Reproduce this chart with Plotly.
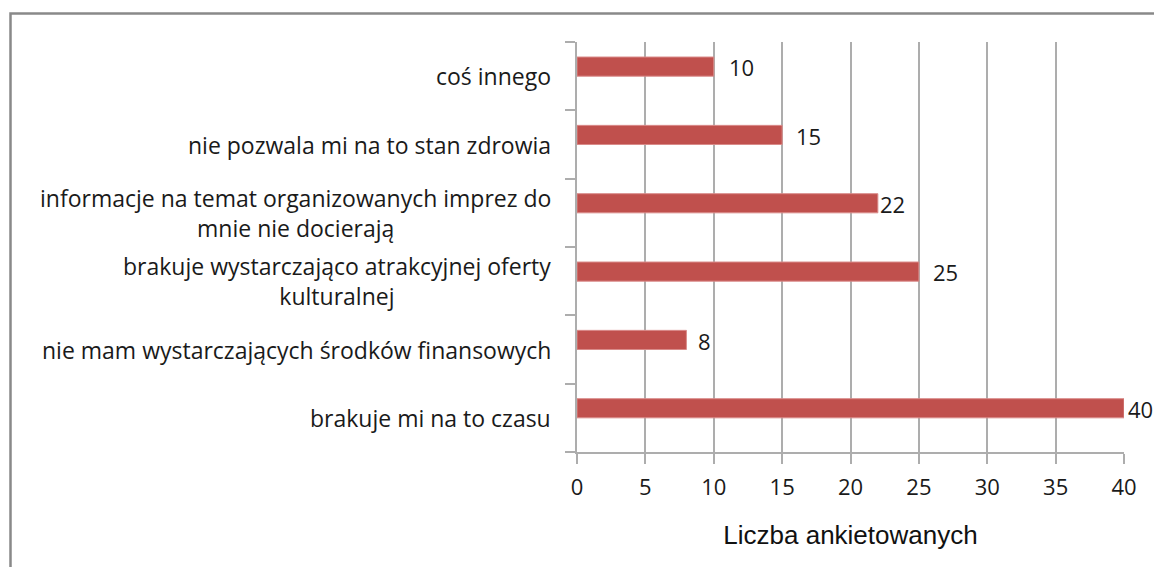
import plotly.graph_objects as go

# Data (bottom to top)
categories = [
    "brakuje mi na to czasu",
    "nie mam wystarczających środków finansowych",
    "brakuje wystarczająco atrakcyjnej oferty<br>kulturalnej",
    "informacje na temat organizowanych imprez do<br>mnie nie docierają",
    "nie pozwala mi na to stan zdrowia",
    "coś innego",
]
values = [40, 8, 25, 22, 15, 10]
x_ticks = [0, 5, 10, 15, 20, 25, 30, 35, 40]
x_title = "Liczba ankietowanych"

# styles
label_font = "'Open Sans', sans-serif"
label_xshift = [2, 10, 12, 0, 12, 13]
grid_color = "#ADADAD"
bar_color = "#C0504D"

W, H = 1154, 567
L, R, T, B = 577, 30, 42, 115
pw, ph = W - L - R, H - T - B

fig = go.Figure()
fig.add_trace(go.Bar(
    y=categories, x=values, orientation="h",
    width=0.28, offset=0,
    marker=dict(color=bar_color, line=dict(color="#D98B89", width=1)),
    hoverinfo="x+y",
))

annotations = []
for c in categories:
    annotations.append(dict(
        x=0, xref="paper", y=c, yref="y", text=c, showarrow=False,
        xanchor="right", yanchor="middle", align="center", xshift=-24,
        font=dict(family=label_font, size=23, color="#1a1a1a"),
    ))
for c, v, s in zip(categories, values, label_xshift):
    annotations.append(dict(
        x=v, xref="x", y=c, yref="y", text=str(v), showarrow=False,
        xanchor="left", yanchor="middle", xshift=s, yshift=9,
        font=dict(family=label_font, size=22, color="#1a1a1a"),
    ))

fig.update_layout(
    width=W, height=H,
    margin=dict(l=L, r=R, t=T, b=B, pad=0),
    paper_bgcolor="white", plot_bgcolor="white",
    showlegend=False,
    annotations=annotations,
    shapes=[dict(
        type="rect", xref="paper", yref="paper",
        x0=(10.5 - L) / pw, x1=(W + 20 - L) / pw,
        y0=-(H + 20 - T - ph) / ph, y1=1 + (T - 13.5) / ph,
        line=dict(color="#898989", width=2.5), layer="below",
    )],
    xaxis=dict(
        range=[0, 40], tickvals=x_ticks, showgrid=True, gridcolor=grid_color,
        gridwidth=1.5, zeroline=False, showline=True, linecolor=grid_color,
        linewidth=1.5, ticks="outside", ticklen=10, tickcolor=grid_color,
        tickwidth=1.5, ticklabelstandoff=5,
        tickfont=dict(family=label_font, size=22, color="#1a1a1a"),
        title=dict(text=x_title, standoff=26,
                   font=dict(family="'Liberation Sans', Arial, sans-serif", size=26, color="#111")),
    ),
    yaxis=dict(
        type="category", showticklabels=False, showgrid=False, zeroline=False,
        showline=True, linecolor=grid_color, linewidth=1.5,
        ticks="outside", tickson="boundaries", ticklen=10, tickcolor=grid_color,
        tickwidth=1.5, range=[-0.5, 5.5],
    ),
    bargap=0.7,
)

# remove the default page margin so the figure fills the window exactly
fig.write_html(
    "out.html",
    config={"displayModeBar": False},
    post_script="document.body.style.margin='0';document.body.style.overflow='hidden';",
)
